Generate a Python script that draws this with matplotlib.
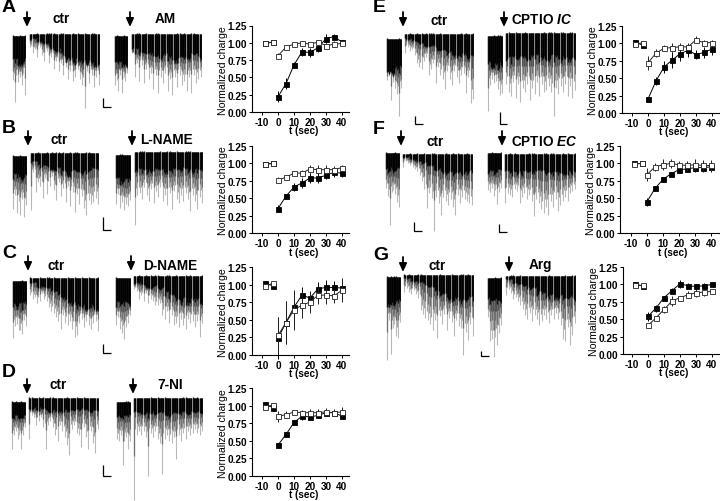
import numpy as np
import matplotlib
matplotlib.use("Agg")
import matplotlib.pyplot as plt

plt.rcParams['font.family'] = ['Liberation Sans', 'DejaVu Sans']
plt.rcParams['axes.unicode_minus'] = False
W, H = 720, 502

# ---------- summary data ----------
t_pre = [-8, -3]
t_post = [0, 5, 10, 15, 20, 25, 30, 35, 40]
x_ticks = [-10, 0, 10, 20, 30, 40]
y_ticks = [0, 0.25, 0.5, 0.75, 1.0, 1.25]
y_tick_labels = ['0.00', '0.25', '0.50', '0.75', '1.00', '1.25']

a_f_pre = [1.00, 1.01]; a_f = [.22, .41, .68, .87, .86, .93, 1.06, 1.09, 1.01]; a_fe = [.08, .08, .04, .06, .07, .07, .06, .04, .03]
a_o_pre = [.99, 1.01]; a_o = [.81, .94, .98, 1.00, .98, 1.01, .96, .98, .99]; a_oe = [.04, .02, .02, .02, .03, .02, .03, .04, .04]
b_f_pre = [.99, 1.00]; b_f = [.35, .53, .66, .72, .79, .79, .83, .87, .86]; b_fe = [.05, .03, .06, .07, .07, .07, .06, .06, .06]
b_o_pre = [.99, 1.00]; b_o = [.76, .80, .86, .86, .92, .91, .91, .91, .94]; b_oe = [.04, .03, .03, .05, .06, .06, .06, .05, .04]
c_f_pre = [1.02, .98]; c_f = [.24, .46, .68, .85, .81, .94, .96, .96, .95]; c_fe = [.30, .30, .23, .11, .10, .09, .10, .09, .13]
c_o_pre = [.98, 1.02]; c_o = [.28, .46, .64, .71, .75, .85, .85, .84, .92]; c_oe = [.26, .30, .28, .19, .15, .12, .12, .10, .17]
d_f_pre = [1.02, .97]; d_f = [.44, .59, .76, .85, .84, .86, .90, .90, .85]; d_fe = [.03, .04, .03, .05, .04, .04, .03, .03, .03]
d_o_pre = [.98, 1.01]; d_o = [.85, .87, .91, .90, .90, .90, .91, .90, .91]; d_oe = [.08, .05, .03, .04, .05, .05, .06, .05, .07]
e_f_pre = [1.02, .97]; e_f = [.20, .46, .66, .76, .85, .90, .84, .87, .92]; e_fe = [.02, .06, .08, .11, .11, .09, .07, .08, .08]
e_o_pre = [.99, 1.01]; e_o = [.72, .86, .93, .94, .95, .95, 1.05, 1.01, 1.01]; e_oe = [.10, .06, .04, .07, .05, .05, .05, .04, .04]
f_f_pre = [1.00, 1.00]; f_f = [.45, .64, .77, .85, .91, .92, .94, .94, .95]; f_fe = [.06, .03, .03, .02, .04, .04, .06, .06, .07]
f_o_pre = [.99, 1.00]; f_o = [.84, .95, .98, 1.00, .98, .97, .98, .97, .97]; f_oe = [.10, .06, .08, .07, .06, .06, .08, .08, .08]
g_f_pre = [1.00, .98]; g_f = [.54, .66, .81, .91, 1.01, .98, .97, .98, 1.00]; g_fe = [.07, .05, .03, .04, .06, .04, .04, .04, .02]
g_o_pre = [.99, .99]; g_o = [.41, .52, .64, .76, .81, .85, .88, .89, .90]; g_oe = [.03, .03, .05, .07, .03, .05, .06, .05, .04]

# ---------- current traces: spike amplitudes and dense-band amplitudes ----------
a1s = [45, 67, 40, 47, 42, 50, 38, 60]; a1d = [27, 30, 26]
a2s = [14, 20, 16, 24, 14, 22, 28, 18, 30, 24, 36, 28, 38, 30, 42, 34, 46, 38, 48, 44, 36, 46, 52, 75, 38, 50, 42, 54, 44, 52]
a2d = [6, 8, 10, 14, 18, 22, 25, 28, 30, 30, 30, 30]
a3s = [50, 45, 56, 40, 58, 42, 46, 38]; a3d = [30, 30, 30]
a4s = [20, 44, 30, 48, 32, 50, 36, 46, 40, 56, 42, 60, 44, 50, 40, 58, 46, 62, 44, 54, 42, 52, 48, 58, 44, 60, 42, 50, 46, 44]
a4d = [18, 20, 22, 24, 24, 24, 26, 26, 24, 24, 22, 24]

b1s = [54, 40, 58, 46, 60, 44, 62, 50]; b1d = [21, 23, 22]
b2s = [58, 20, 40, 30, 34, 46, 26, 42, 34, 24, 38, 48, 30, 44, 36, 50, 34, 54, 40, 60, 42, 52, 44, 56, 63, 48, 52, 50, 46, 52]
b2d = [10, 14, 14, 16, 18, 20, 22, 20, 20, 20, 18, 18]
b3s = [50, 40, 54, 48, 56, 50, 52, 46]; b3d = [27, 28, 27]
b4s = [74, 44, 42, 48, 36, 44, 50, 38, 52, 40, 46, 36, 50, 44, 54, 42, 58, 40, 48, 52, 44, 50, 42, 48, 60, 44, 50, 58, 46, 52]
b4d = [18, 20, 20, 20, 20, 20, 20, 18, 18, 20, 20, 20]

c1s = [58, 46, 44, 50, 50, 54, 40, 46]; c1d = [25, 26, 25]
c2s = [18, 22, 20, 26, 24, 16, 22, 24, 30, 34, 36, 40, 44, 52, 38, 46, 48, 44, 52, 60, 58, 46, 42, 50, 44, 48, 52, 46, 44, 54]
c2d = [6, 10, 10, 12, 16, 20, 24, 28, 30, 30, 30, 30]
c3s = [48, 40, 52, 56, 62, 50, 46, 38]; c3d = [28, 28, 27]
c4s = [14, 16, 24, 20, 26, 18, 28, 24, 26, 30, 30, 28, 40, 44, 36, 48, 40, 50, 48, 52, 44, 50, 54, 44, 48, 46, 52, 46, 62, 48]
c4d = [8, 10, 12, 12, 14, 18, 22, 24, 26, 26, 26, 28]

d1s = [48, 34, 30, 38, 34, 48, 34, 26]; d1d = [16, 16, 15]
d2s = [42, 18, 20, 28, 24, 20, 30, 52, 28, 24, 30, 38, 44, 28, 34, 40, 48, 58, 32, 28, 36, 38, 50, 30, 40, 52, 34, 46, 56, 32]
d2d = [12, 12, 13, 14, 14, 14, 14, 13, 13, 14, 14, 14]
d3s = [38, 40, 34, 64, 40, 36, 48, 40]; d3d = [15, 16, 15]
d4s = [103, 38, 34, 38, 34, 40, 79, 36, 40, 34, 42, 46, 77, 42, 38, 44, 46, 40, 62, 38, 44, 36, 42, 34, 38, 36, 32, 36, 38, 34]
d4d = [14, 16, 18, 16, 16, 18, 18, 16, 16, 16, 16, 15]

e1s = [42, 38, 62, 44, 50, 56, 78, 50]; e1d = [33, 33, 32]
e2s = [20, 14, 18, 16, 22, 30, 34, 36, 28, 24, 42, 36, 30, 50, 34, 42, 46, 56, 38, 46, 52, 38, 44, 50, 42, 40, 60, 44, 70, 66]
e2d = [6, 8, 10, 12, 14, 16, 18, 20, 22, 24, 24, 24]
e3s = [76, 50, 44, 48, 46, 54, 60, 58]; e3d = [30, 31, 30]
e4s = [52, 60, 64, 50, 66, 52, 70, 56, 60, 52, 68, 56, 62, 50, 64, 52, 60, 58, 54, 60, 84, 56, 62, 54, 60, 52, 64, 54, 66, 58]
e4d = [28, 28, 27, 28, 26, 26, 27, 26, 26, 27, 26, 26]

f1s = [36, 44, 73, 40, 38, 42, 50, 55]; f1d = [18, 19, 18]
f2s = [14, 8, 10, 12, 14, 16, 18, 22, 28, 36, 55, 40, 45, 78, 44, 50, 62, 44, 48, 52, 46, 54, 62, 42, 50, 44, 46, 48, 50, 52]
f2d = [4, 6, 8, 10, 14, 16, 18, 20, 20, 20, 20, 20]
f3s = [38, 40, 36, 44, 38, 52, 40, 36]; f3d = [20, 20, 19]
f4s = [50, 40, 42, 44, 36, 38, 50, 44, 40, 46, 42, 48, 63, 46, 50, 56, 60, 54, 62, 48, 54, 46, 58, 52, 48, 44, 48, 40, 38, 36]
f4d = [20, 20, 20, 20, 19, 19, 19, 19, 20, 20, 20, 20]

g1s = [84, 44, 78, 52, 48, 60, 62, 46]; g1d = [27, 28, 26]
g2s = [18, 14, 18, 20, 16, 20, 24, 36, 40, 44, 46, 50, 56, 46, 64, 42, 50, 40, 56, 44, 48, 62, 46, 52, 54, 81, 58, 66, 50, 62]
g2d = [4, 8, 8, 10, 14, 18, 22, 24, 26, 26, 26, 26]
g3s = [40, 64, 62, 80, 60, 68, 56, 48]; g3d = [24, 25, 24]
g4s = [20, 14, 18, 24, 22, 26, 30, 34, 40, 44, 38, 46, 40, 44, 50, 46, 40, 44, 48, 40, 44, 38, 44, 50, 64, 66, 52, 70, 60, 48]
g4d = [4, 8, 10, 12, 14, 18, 20, 22, 22, 22, 24, 24]

# ---------- layout (pixels) ----------
SEGMENTS = [
    (a1s, a1d, 12, 26, 36), (a2s, a2d, 29, 100, 34), (a3s, a3d, 114, 128, 36), (a4s, a4d, 131, 202, 34),
    (b1s, b1d, 12, 27, 156), (b2s, b2d, 30, 99, 153), (b3s, b3d, 115, 131, 155), (b4s, b4d, 134, 203, 152),
    (c1s, c1d, 12, 27, 281), (c2s, c2d, 29, 99, 278), (c3s, c3d, 115, 131, 278), (c4s, c4d, 133, 203, 276),
    (d1s, d1d, 11, 26, 402), (d2s, d2d, 28, 99, 398), (d3s, d3d, 116, 131, 402), (d4s, d4d, 133, 203, 398),
    (e1s, e1d, 386, 402, 39), (e2s, e2d, 404, 474, 34), (e3s, e3d, 487, 503, 36), (e4s, e4d, 505, 576, 33),
    (f1s, f1d, 385, 400, 153), (f2s, f2d, 402, 473, 154), (f3s, f3d, 487, 502, 153), (f4s, f4d, 504, 576, 154),
    (g1s, g1d, 386, 401, 277), (g2s, g2d, 403, 474, 275), (g3s, g3d, 487, 502, 278), (g4s, g4d, 505, 576, 276),
]
CHARTS = [
    (a_f_pre, a_f, a_fe, a_o_pre, a_o, a_oe, 252, 349, 26.5, 113, 278, 342),
    (b_f_pre, b_f, b_fe, b_o_pre, b_o, b_oe, 252, 349, 147, 234, 278, 342),
    (c_f_pre, c_f, c_fe, c_o_pre, c_o, c_oe, 252, 349, 268, 356, 278, 342),
    (d_f_pre, d_f, d_fe, d_o_pre, d_o, d_oe, 252, 349, 389, 477, 278, 342),
    (e_f_pre, e_f, e_fe, e_o_pre, e_o, e_oe, 622, 720, 27, 114, 648, 712),
    (f_f_pre, f_f, f_fe, f_o_pre, f_o, f_oe, 620, 719, 147, 234, 647, 711),
    (g_f_pre, g_f, g_fe, g_o_pre, g_o, g_oe, 623, 720, 268, 355, 648, 712),
]
ARROWS = [(27, 13, 28), (130, 13, 28), (28, 132, 147), (132, 132, 147), (28, 257, 272), (131, 257, 272),
          (27, 380, 395), (133, 380, 395), (403, 13, 28), (504, 13, 28), (401, 132, 147), (502, 132, 147),
          (403, 258, 273), (509, 258, 273)]
SCALES = [(103, 111, 99, 108), (103, 111, 218, 231), (103, 111, 345, 354), (103, 111, 466, 477),
          (415, 423, 117, 125), (500, 507, 113, 125), (414, 422, 223, 232), (499, 507, 225, 233), (481, 489, 352, 357)]
LETTERS = [("A", 2, 8), ("B", 2, 129), ("C", 2, 254), ("D", 2, 373), ("E", 373, 8), ("F", 373, 130), ("G", 373, 255)]
TITLES = [("ctr", 61, 19), ("AM", 165, 19), ("ctr", 59, 140), ("L-NAME", 166, 140), ("ctr", 56, 266), ("D-NAME", 170, 266),
          ("ctr", 58, 385), ("7-NI", 170, 385), ("ctr", 439, 21), ("CPTIO $\\mathbfit{IC}$", 542, 20), ("ctr", 435, 142),
          ("CPTIO $\\mathbfit{EC}$", 544, 142), ("ctr", 437, 266), ("Arg", 540, 265)]

plt.rcParams['mathtext.fontset'] = 'custom'
plt.rcParams['mathtext.bfit'] = 'Liberation Sans:italic:bold'

fig = plt.figure(figsize=(W / 100, H / 100), dpi=100, facecolor='white')
ov = fig.add_axes((0, 0, 1, 1), zorder=5)
ov.set_xlim(0, W); ov.set_ylim(H, 0); ov.axis('off'); ov.patch.set_alpha(0)


def box(x0, x1, y0, y1):
    return (x0 / W, 1 - y1 / H, (x1 - x0) / W, (y1 - y0) / H)


def trace(spikes, dark, x0, x1, ytop):
    h = 115
    ax = fig.add_axes(box(x0, x1, ytop, ytop + h))
    ax.axis('off')
    n = len(spikes)
    ax.set_xlim(0, n); ax.set_ylim(h, 0)
    xs = np.arange(n) + 0.5
    xm = np.arange(n - 1) + 1.0
    sp = np.array(spikes, float)
    dd = np.array(dark, float)[(np.arange(n) * len(dark) / n).astype(int)]
    between = np.minimum(sp[:-1], sp[1:])
    dm = dd[:-1]
    fuzz = (sp % 3) * 0.7
    ax.vlines(xs, 1, sp, color='#b8b8b8', lw=0.8)
    ax.vlines(xm, 1, between * 0.85, color='#a0a0a0', lw=0.8)
    ax.vlines(xs, 1, dd + (sp - dd) * 0.5, color='#707070', lw=0.9)
    ax.vlines(xm, 1, dm + (between - dm) * 0.25, color='#505050', lw=0.9)
    ax.vlines(xs, fuzz, dd * (0.9 + 0.06 * (sp % 5)), color='#111111', lw=1.0)
    ax.vlines(xm, 1.4, dm * (0.85 + 0.05 * (between % 5)), color='black', lw=1.0)


for seg in SEGMENTS:
    trace(*seg)

for fpre, f, fe, opre, o, oe, xl, xr, ytop, ybot, t0, t40 in CHARTS:
    ax = fig.add_axes(box(xl, xr, ytop, ybot))
    s = (t40 - t0) / 40
    ax.set_xlim((xl - t0) / s, (xr - t0) / s)
    ax.set_ylim(0, 1.25)
    for sp_name in ('top', 'right'):
        ax.spines[sp_name].set_visible(False)
    for sp_name in ('left', 'bottom'):
        ax.spines[sp_name].set_linewidth(0.8)
    ax.patch.set_alpha(0)
    ax.set_xticks(x_ticks); ax.set_yticks(y_ticks, y_tick_labels)
    ax.tick_params(length=2.5, width=0.7, labelsize=7.2)
    ax.tick_params(axis='x', pad=0.8)
    ax.tick_params(axis='y', pad=1.2)
    for lab in ax.get_xticklabels() + ax.get_yticklabels():
        lab.set_fontweight('bold')
    kw = dict(lw=0.7, ms=3.6, mew=0.6, elinewidth=0.7, capsize=0, clip_on=False)
    for tt, yy, ee in ((t_pre, fpre, [0.02, 0.02]), (t_post, f, fe)):
        ax.errorbar(tt, yy, yerr=ee, fmt='-s', color='black', mfc='black', mec='black', zorder=3, **kw)
    for tt, yy, ee in ((t_pre, opre, [0.02, 0.02]), (t_post, o, oe)):
        ax.errorbar(tt, yy, yerr=ee, fmt='-s', color='#222222', mfc='white', mec='#222222', zorder=4, **kw)
    xc = (t0 + t40) / 2 - 6
    ov.text(xc, ybot + 18.5, 't (sec)', ha='center', va='center', fontsize=7.2, fontweight='bold')
    ov.text(xl - 29, (ytop + ybot) / 2 + 0.5, 'Normalized charge', rotation=90, ha='center', va='center', fontsize=7.6)

for x, y0, y1 in ARROWS:
    ov.annotate('', xy=(x, y1), xytext=(x, y0),
                arrowprops=dict(arrowstyle='-|>,head_length=0.55,head_width=0.25', lw=1.3, color='black',
                                shrinkA=0, shrinkB=0, mutation_scale=9))
for x0, x1, y0, y1 in SCALES:
    ov.plot([x0, x0, x1], [y0, y1, y1], color='black', lw=0.9, solid_joinstyle='miter', solid_capstyle='butt')
for s_, x, y in LETTERS:
    ov.text(x, y, s_, ha='left', va='center', fontsize=14, fontweight='bold')
for s_, x, y in TITLES:
    ov.text(x, y, s_, ha='center', va='center', fontsize=9.8, fontweight='bold')

fig.savefig('out.png', dpi=100)
